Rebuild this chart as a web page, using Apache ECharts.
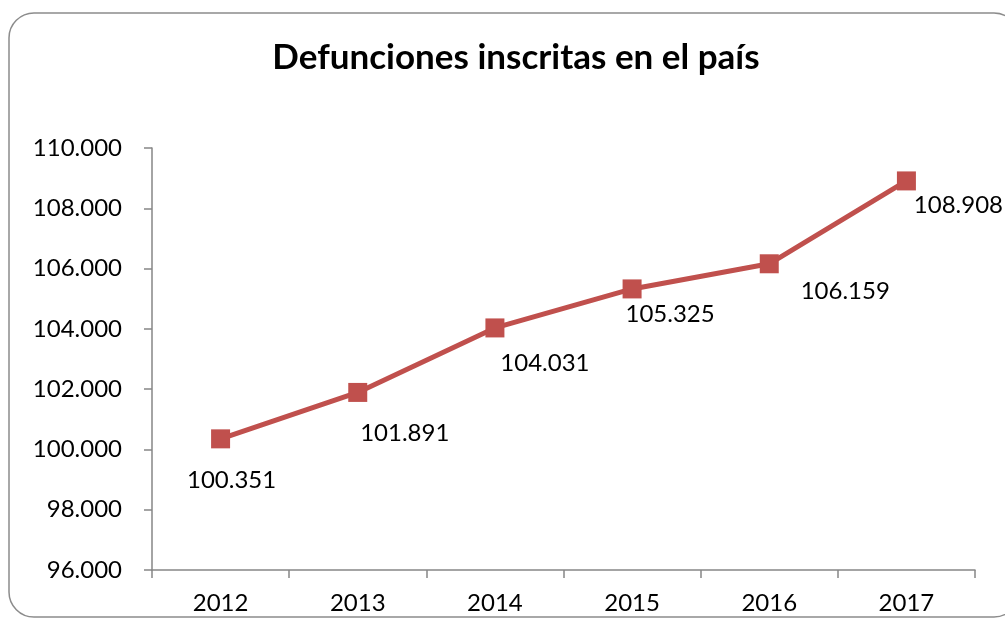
<!DOCTYPE html>
<html><head><meta charset="utf-8">
<script src="https://cdn.jsdelivr.net/npm/echarts@6/dist/echarts.min.js"></script>
<style>html,body{margin:0;padding:0;background:#fff}#c{width:1005px;height:620px}</style>
</head><body><div id="c"></div>
<script>
const title = "Defunciones inscritas en el país";
const years = ["2012","2013","2014","2015","2016","2017"];
const deaths = [100351, 101891, 104031, 105325, 106159, 108908];
const yMin = 96000, yMax = 110000, yStep = 2000;
// label offsets (style only)
const labelOffsets = [[11,41],[47,41],[50,35],[38,25],[76,27],[52,24]];

function fmt(v){ return String(v).replace(/\B(?=(\d{3})+(?!\d))/g, "."); }
const FONT = "Lato";
const chart = echarts.init(document.getElementById('c'), null, {renderer:'canvas'});
chart.setOption({
  animation:false,
  backgroundColor:'#fff',
  graphic:[{type:'rect', shape:{x:9,y:13,width:1010,height:604,r:25}, style:{fill:'none',stroke:'#8c8c8c',lineWidth:1.5}, z:-1}],
  title:{text:title, left:511, top:35, textAlign:'center',
    textStyle:{fontFamily:FONT, fontWeight:'bold', fontSize:35, color:'#000'}},
  grid:{left:152, top:148, width:823, height:422, containLabel:false},
  xAxis:{type:'category', data:years, boundaryGap:true,
    axisLine:{lineStyle:{color:'#868686', width:1.5}},
    axisTick:{show:true, length:8, alignWithLabel:false, lineStyle:{color:'#868686', width:1.5}},
    axisLabel:{fontFamily:FONT, fontSize:24, color:'#000', margin:21}},
  yAxis:{type:'value', min:yMin, max:yMax, interval:yStep,
    axisLine:{show:true, lineStyle:{color:'#868686', width:1.5}},
    axisTick:{show:true, length:8, inside:false, lineStyle:{color:'#868686', width:1.5}},
    splitLine:{show:false},
    axisLabel:{fontFamily:FONT, fontSize:24, color:'#000', margin:30, formatter:fmt}},
  series:[{type:'line', data:deaths.map((v,i)=>({value:v, label:{offset:labelOffsets[i]}})),
    symbol:'rect', symbolSize:19,
    lineStyle:{color:'#C0504D', width:5},
    itemStyle:{color:'#C0504D'},
    label:{show:true, position:'inside', fontFamily:FONT, fontSize:24, color:'#000',
      formatter:p=>fmt(p.value)}}]
});
</script></body></html>
